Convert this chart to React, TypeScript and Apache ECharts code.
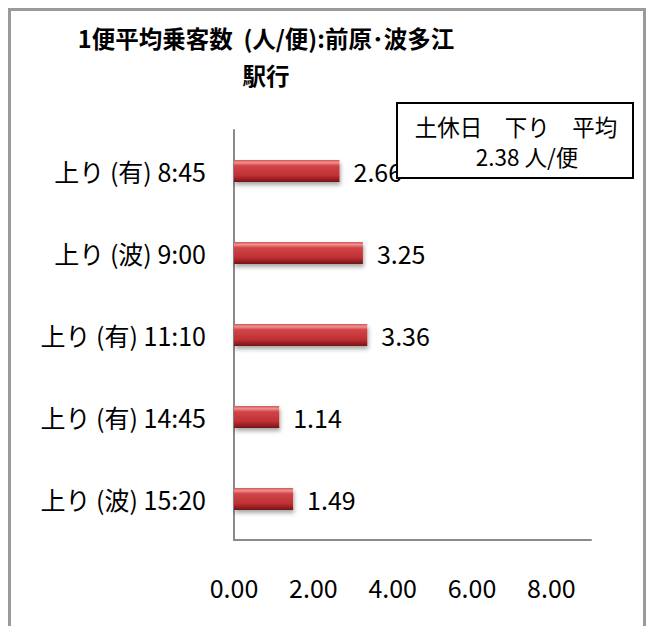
import React, { useEffect, useRef } from "react";
import * as echarts from "echarts";

const TITLE = "1便平均乗客数  (人/便):前原･波多江\n駅行";
const categories = ["上り (有) 8:45", "上り (波) 9:00", "上り (有) 11:10", "上り (有) 14:45", "上り (波) 15:20"];
const values = [2.66, 3.25, 3.36, 1.14, 1.49];
const boxLine1 = "土休日　下り　平均";
const averageValue = 2.38;
const boxUnit = "人/便";

const FONT = '"Noto Sans CJK JP", "Noto Sans", sans-serif';

export default function App() {
  const ref = useRef<HTMLDivElement>(null);
  useEffect(() => {
    if (!ref.current) return;
    const chart = echarts.init(ref.current, null, { renderer: "svg" });
    chart.setOption({
      animation: false,
      backgroundColor: "#ffffff",
      title: {
        text: TITLE,
        left: 261,
        top: 14,
        textAlign: "center",
        textStyle: {
          fontFamily: FONT,
          fontSize: 23.5,
          fontWeight: "bold",
          color: "#000",
          lineHeight: 37,
        },
      },
      grid: { left: 234, right: 62, top: 130, bottom: 86, containLabel: false },
      xAxis: {
        type: "value",
        min: 0,
        max: 9,
        interval: 2,
        axisLine: { show: true, lineStyle: { color: "#8a8a8a", width: 2 } },
        axisTick: { show: false },
        splitLine: { show: false },
        axisLabel: {
          showMaxLabel: false,
          margin: 34,
          fontFamily: FONT,
          fontSize: 25,
          color: "#000",
          formatter: (v: number) => v.toFixed(2),
        },
      },
      yAxis: {
        type: "category",
        inverse: true,
        data: categories,
        axisLine: { show: true, lineStyle: { color: "#8a8a8a", width: 2 } },
        axisTick: { show: false },
        axisLabel: { margin: 28, fontFamily: FONT, fontSize: 25, color: "#000" },
      },
      series: [
        {
          type: "bar",
          data: values,
          barWidth: 22,
          itemStyle: {
            color: new echarts.graphic.LinearGradient(0, 0, 0, 1, [
              { offset: 0, color: "#d65556" },
              { offset: 0.12, color: "#ee9090" },
              { offset: 0.26, color: "#d24548" },
              { offset: 0.72, color: "#bd2f32" },
              { offset: 0.86, color: "#9c2125" },
              { offset: 1, color: "#701314" },
            ]),
            shadowColor: "rgba(0,0,0,0.35)",
            shadowBlur: 4,
            shadowOffsetX: 1,
            shadowOffsetY: 3,
          },
          label: {
            show: true,
            position: "right",
            distance: 14,
            fontFamily: FONT,
            fontSize: 25,
            color: "#000",
            formatter: (p: any) => Number(p.value).toFixed(2),
          },
        },
      ],
      graphic: [
        {
          type: "rect",
          z: 100,
          shape: { x: 9.5, y: 9.5, width: 635, height: 700 },
          style: { fill: "none", stroke: "#9a9a9a", lineWidth: 3 },
        },
        {
          type: "rect",
          z: 100,
          shape: { x: 397, y: 103, width: 236, height: 75 },
          style: { fill: "#ffffff", stroke: "#000", lineWidth: 2 },
        },
        {
          type: "text",
          z: 101,
          x: 516,
          y: 126,
          style: {
            text: boxLine1,
            fontFamily: FONT,
            fontSize: 22.5,
            fill: "#000",
            align: "center",
            verticalAlign: "middle",
          },
        },
        {
          type: "text",
          z: 101,
          x: 527,
          y: 156,
          style: {
            text: averageValue.toFixed(2) + " " + boxUnit,
            fontFamily: FONT,
            fontSize: 22.5,
            fill: "#000",
            align: "center",
            verticalAlign: "middle",
          },
        },
      ],
    });
    return () => chart.dispose();
  }, []);
  return (
    <div
      ref={ref}
      style={{ position: "fixed", left: 0, top: 0, width: 653, height: 626 }}
    />
  );
}
